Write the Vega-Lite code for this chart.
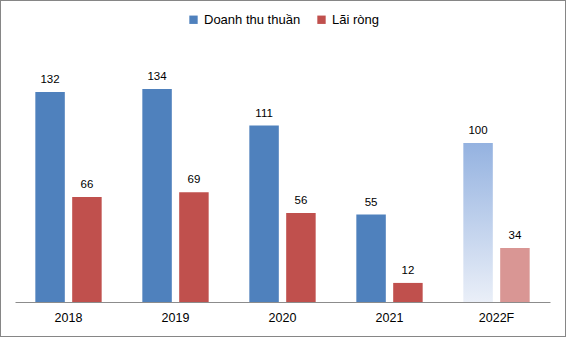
{
  "$schema": "https://vega.github.io/schema/vega-lite/v6.json",
  "width": 566,
  "height": 337,
  "autosize": "none",
  "padding": 0,
  "background": "white",
  "config": {
    "view": {"stroke": "#868686", "strokeWidth": 2},
    "font": "Liberation Sans",
    "text": {"font": "Liberation Sans"}
  },
  "data": {
    "values": [
      {"year": "2018", "series": "Doanh thu thuần", "value": 132},
      {"year": "2018", "series": "Lãi ròng", "value": 66},
      {"year": "2019", "series": "Doanh thu thuần", "value": 134},
      {"year": "2019", "series": "Lãi ròng", "value": 69},
      {"year": "2020", "series": "Doanh thu thuần", "value": 111},
      {"year": "2020", "series": "Lãi ròng", "value": 56},
      {"year": "2021", "series": "Doanh thu thuần", "value": 55},
      {"year": "2021", "series": "Lãi ròng", "value": 12},
      {"year": "2022F", "series": "Doanh thu thuần", "value": 100},
      {"year": "2022F", "series": "Lãi ròng", "value": 34}
    ]
  },
  "encoding": {
    "x": {
      "field": "year",
      "type": "nominal",
      "sort": ["2018", "2019", "2020", "2021", "2022F"],
      "scale": {"type": "band", "range": [15, 550], "paddingInner": 0.38, "paddingOuter": 0.19},
      "axis": {
        "title": null,
        "orient": "bottom",
        "offset": -35,
        "domainColor": "#8c8c8c",
        "domainWidth": 1,
        "ticks": false,
        "labelAngle": 0,
        "labelFontSize": 12.5,
        "labelColor": "#000000",
        "labelPadding": 9,
        "labelFont": "Liberation Sans",
        "grid": false
      }
    },
    "xOffset": {
      "field": "series",
      "type": "nominal",
      "scale": {"domain": ["Doanh thu thuần", "Lãi ròng"], "paddingInner": 0.2, "paddingOuter": 0}
    },
    "y": {
      "field": "value",
      "type": "quantitative",
      "scale": {"domain": [0, 150], "range": [302, 63.5], "nice": false, "zero": true},
      "axis": null
    }
  },
  "layer": [
    {
      "transform": [{"filter": "datum.year !== '2022F'"}],
      "mark": {"type": "bar"},
      "encoding": {
        "color": {
          "field": "series",
          "type": "nominal",
          "scale": {"domain": ["Doanh thu thuần", "Lãi ròng"], "range": ["#4F81BD", "#C0504D"]},
          "legend": {
            "title": null,
            "orient": "none",
            "direction": "horizontal",
            "legendX": 187,
            "legendY": 13,
            "symbolType": "square",
            "symbolSize": 70,
            "symbolStrokeWidth": 0,
            "labelFontSize": 13,
            "labelFont": "Liberation Sans",
            "labelColor": "#000000",
            "labelOffset": 4,
            "columnPadding": 14,
            "padding": 0
          }
        }
      }
    },
    {
      "transform": [{"filter": "datum.year === '2022F' && datum.series === 'Doanh thu thuần'"}],
      "mark": {
        "type": "bar",
        "color": {
          "gradient": "linear",
          "x1": 0, "y1": 0, "x2": 0, "y2": 1,
          "stops": [
            {"offset": 0, "color": "#94B2E0"},
            {"offset": 1, "color": "#EAEFF8"}
          ]
        }
      }
    },
    {
      "transform": [{"filter": "datum.year === '2022F' && datum.series === 'Lãi ròng'"}],
      "mark": {"type": "bar", "color": "#D99694"}
    },
    {
      "mark": {"type": "text", "baseline": "bottom", "dy": -7, "fontSize": 11.5, "color": "#000000", "font": "Liberation Sans"},
      "encoding": {"text": {"field": "value", "type": "quantitative"}}
    }
  ]
}
